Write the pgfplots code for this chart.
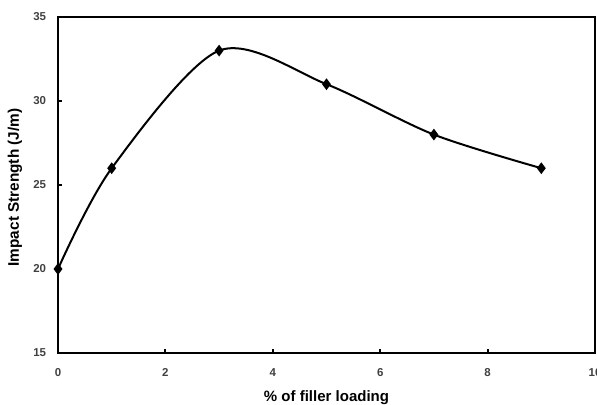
\documentclass[border=0pt]{standalone}
\usepackage{pgfplots}
\pgfplotsset{compat=1.18}
\usepackage{fontspec}
\setmainfont{Liberation Sans}
\begin{document}
\begin{tikzpicture}
\begin{axis}[
  name=ax,
  scale only axis,
  width=402.75pt, height=252pt,
  xmin=0, xmax=10, ymin=15, ymax=35,
  xtick={0,2,4,6,8,10},
  ytick={15,20,25,30,35},
  tick pos=left,
  tick align=inside,
  major tick length=3pt,
  tick style={line width=1.5pt, black},
  axis line style={line width=2pt},
  /pgf/number format/assume math mode=true,
  ticklabel style={font=\fontsize{8.6}{10}\selectfont\bfseries, text=black!75},
  xticklabel style={anchor=north, yshift=-8.4pt},
  yticklabel style={anchor=east, xshift=-5.4pt},
  every axis x label/.style={at={(rel axis cs:0.5,0)}, anchor=base, yshift=-36pt, font=\fontsize{11.25}{13}\selectfont\bfseries},
  every axis y label/.style={at={(rel axis cs:-0.0801,0.4926)}, anchor=center, rotate=90, font=\fontsize{11.5}{13}\selectfont\bfseries},
  xlabel={\% of filler loading},
  ylabel={Impact Strength (J/m)},
  clip=false,
]
\addplot[black, line width=1.5pt, smooth, mark=diamond*, mark size=3.2pt, mark options={fill=black}]
  coordinates {(0,20) (1,26) (3,33) (5,31) (7,28) (9,26)};
\end{axis}
\pgfresetboundingbox
\path[use as bounding box] ([xshift=-43.5pt,yshift=-38.25pt]ax.south west) rectangle ([xshift=1.5pt,yshift=12.75pt]ax.north east);
\end{tikzpicture}
\end{document}
